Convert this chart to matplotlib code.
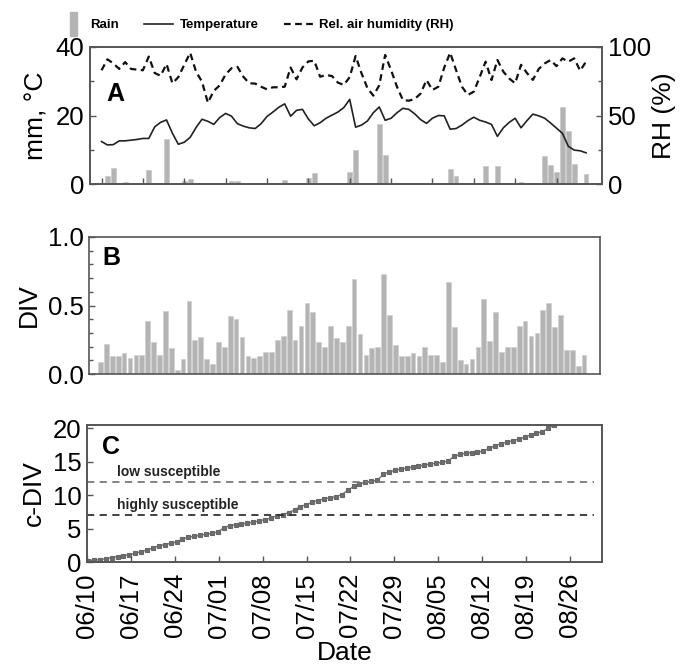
import numpy as np
import matplotlib
matplotlib.use("Agg")
import matplotlib.pyplot as plt
import matplotlib.patches as mpatches
from matplotlib.lines import Line2D
from matplotlib.legend_handler import HandlerPatch

plt.rcParams['font.family'] = ['Liberation Sans', 'DejaVu Sans']

# daily series, day 0 = 06/10
rain_days = [1, 2, 4, 8, 11, 14, 15, 16, 22, 23, 31, 35, 36, 39, 42, 43, 47, 48,
             56, 59, 60, 65, 67, 71, 75, 76, 77, 78, 79, 80, 82]
rain_mm = [2.4, 4.7, 0.5, 4.2, 13.1, 0.8, 1.5, 0.4, 0.8, 0.8, 1.1, 1.7, 3.2, 0.3, 3.4, 10.0, 17.6, 8.4,
           0.3, 4.4, 2.4, 5.3, 5.2, 0.6, 8.1, 5.6, 3.5, 22.4, 15.4, 5.8, 2.9]

temp = [12.4, 11.4, 11.5, 12.6, 12.6, 12.8, 13.0, 13.3, 13.3, 16.7,
        18.0, 18.7, 14.8, 11.6, 12.2, 13.6, 16.5, 18.9, 18.3, 17.4,
        19.4, 20.6, 19.8, 17.6, 16.9, 16.4, 16.2, 17.6, 19.7, 21.0,
        22.4, 23.4, 19.8, 21.5, 21.8, 19.0, 17.0, 17.9, 19.2, 20.1,
        21.0, 22.3, 24.7, 16.6, 17.2, 18.4, 20.8, 22.5, 18.6, 19.2,
        20.8, 22.1, 21.8, 20.5, 18.8, 17.7, 19.2, 20.0, 19.9, 16.0,
        16.2, 17.2, 18.5, 19.5, 18.6, 18.1, 17.4, 13.9, 16.4, 18.0,
        19.2, 16.4, 18.5, 20.4, 19.9, 19.2, 17.8, 16.3, 14.8, 11.0,
        9.9, 9.7, 9.1]

rh = [83, 91, 88, 84, 89, 84, 83.5, 83, 93, 81,
      79, 87.6, 73.5, 78, 87, 95.8, 82, 74.7, 59.3, 68,
      72, 80, 84.5, 85.5, 78.3, 73.5, 73.3, 71, 69.1, 70.6,
      70.6, 71, 85, 76.4, 85, 89.5, 90, 78.3, 79.6, 78.8,
      74, 72.3, 78, 93.4, 80.8, 70, 64.5, 72, 94.2, 83.2,
      71, 61.3, 60.8, 62, 66, 75.9, 68.6, 71, 85, 95.8,
      83.2, 71, 65, 67.4, 78, 89.3, 75.9, 90.5, 82, 77,
      73.5, 87, 81, 76, 84, 88, 90.5, 86, 91.7, 89.3,
      91.7, 82.7, 89.3]

div = [0.085, 0.22, 0.13, 0.13, 0.15, 0.12, 0.14, 0.14, 0.39, 0.23,
       0.14, 0.46, 0.19, 0.03, 0.11, 0.53, 0.25, 0.27, 0.11, 0.07,
       0.23, 0.20, 0.42, 0.40, 0.27, 0.13, 0.12, 0.13, 0.16, 0.16,
       0.25, 0.28, 0.47, 0.25, 0.35, 0.52, 0.45, 0.23, 0.20, 0.35,
       0.26, 0.23, 0.35, 0.69, 0.29, 0.14, 0.19, 0.195, 0.73, 0.43,
       0.21, 0.13, 0.13, 0.15, 0.13, 0.20, 0.14, 0.14, 0.09, 0.67,
       0.34, 0.10, 0.07, 0.11, 0.20, 0.55, 0.24, 0.45, 0.16, 0.195,
       0.195, 0.35, 0.39, 0.28, 0.30, 0.47, 0.52, 0.34, 0.43, 0.175,
       0.175, 0.06, 0.14]

cdiv = [0.2, 0.3, 0.35, 0.5, 0.65, 0.8, 0.95, 1.1, 1.3, 1.55,
        1.8, 2.1, 2.4, 2.6, 2.8, 3.0, 3.45, 3.7, 3.85, 4.0,
        4.15, 4.3, 4.5, 5.1, 5.45, 5.6, 5.7, 5.8, 5.95, 6.15,
        6.35, 6.6, 6.9, 7.1, 7.4, 7.8, 8.3, 8.6, 8.95, 9.2,
        9.45, 9.6, 9.75, 10.1, 10.7, 11.3, 11.7, 11.9, 12.1, 12.2,
        13.1, 13.5, 13.7, 13.9, 14.05, 14.2, 14.35, 14.5, 14.65, 14.8,
        14.9, 15.1, 15.8, 16.1, 16.25, 16.35, 16.45, 16.6, 17.0, 17.4,
        17.7, 17.95, 18.15, 18.4, 18.65, 19.0, 19.25, 19.5, 20.0, 20.5]

date_labels = ['06/10', '06/17', '06/24', '07/01', '07/08', '07/15',
               '07/22', '07/29', '08/05', '08/12', '08/19', '08/26']
low_thr = 12
high_thr = 7

days = np.arange(len(temp))
bar_col = '#b4b4b4'
spine_col = '#555555'
tick_fs = 18.5
lab_fs = 19

fig = plt.figure(figsize=(6.8, 6.66), dpi=100)
W, H = 680, 666


def box(l, r, t, b):
    return [l / W, 1 - b / H, (r - l) / W, (b - t) / H]


def style(ax):
    for s in ax.spines.values():
        s.set_color(spine_col)
        s.set_linewidth(1.2)
    ax.tick_params(direction='in', length=4, width=1, color=spine_col,
                   labelsize=tick_fs, pad=4)
    ax.tick_params(which='minor', direction='in', length=3, width=1, color=spine_col)


# ---- A ----
axA = fig.add_axes(box(90, 602, 47, 184))
axA.bar(rain_days, rain_mm, width=0.8, color=bar_col, edgecolor='#c8c8c8', linewidth=0.5)
axA.plot(days, temp, color='#222222', lw=1.2)
axA.set_xlim(-1.95, 84.7)
axA.set_ylim(0, 40)
axA.set_yticks([0, 20, 40])
axA.set_yticks([10, 30], minor=True)
axA.set_xticks(np.arange(0, 80, 7))
axA.set_xticklabels([])
axA.set_ylabel('mm, °C', fontsize=lab_fs, labelpad=5)
style(axA)
axA.text(0.05, 0.66, 'A', transform=axA.transAxes, fontsize=18, fontweight='bold',
         ha='center', va='center')

axR = axA.twinx()
axR.plot(days, rh, color='#111111', lw=1.6, ls=(0, (3, 2)))
axR.set_ylim(0, 100)
axR.set_yticks([0, 50, 100])
axR.set_yticks([25, 75], minor=True)
axR.set_ylabel('RH (%)', fontsize=lab_fs, labelpad=1)
style(axR)

# ---- B ----
axB = fig.add_axes(box(89, 600, 237, 374))
axB.bar(days, div, width=0.8, color=bar_col, edgecolor='#cfcfcf', linewidth=0.5)
axB.set_xlim(-1.95, 84.7)
axB.set_ylim(0, 1.0)
axB.set_yticks([0.0, 0.5, 1.0])
axB.set_yticklabels(['0.0', '0.5', '1.0'])
axB.set_yticks(np.arange(0.1, 1.0, 0.1), minor=True)
axB.set_xticks([])
axB.set_ylabel('DIV', fontsize=lab_fs, labelpad=5)
style(axB)
axB.text(0.043, 0.847, 'B', transform=axB.transAxes, fontsize=18, fontweight='bold',
         ha='center', va='center')

# ---- C ----
axC = fig.add_axes(box(87, 602, 425, 562))
k = np.arange(len(cdiv))
axC.plot(k, cdiv, color='#777777', lw=1.0, marker='s', ms=3.0, mec='#666666', mfc='#6e6e6e',
         mew=0.8)
axC.axhline(low_thr, xmax=0.985, color='#7a7a7a', lw=1.3, ls=(0, (4, 3)))
axC.axhline(high_thr, xmax=0.985, color='#333333', lw=1.3, ls=(0, (4, 3)))
axC.set_xlim(-0.17, 87.1)
axC.set_ylim(0, 20.5)
axC.set_yticks([0, 5, 10, 15, 20])
axC.set_xticks([])
axC.set_ylabel('c-DIV', fontsize=lab_fs, labelpad=5)
style(axC)
tr = axC.get_yaxis_transform()
axC.text(0.058, 13.45, 'low susceptible', transform=tr, fontsize=10, fontweight='bold',
         color='#222222', va='center')
axC.text(0.058, 8.5, 'highly susceptible', transform=tr, fontsize=10, fontweight='bold',
         color='#222222', va='center')
axC.text(0.047, 0.84, 'C', transform=axC.transAxes, fontsize=18, fontweight='bold',
         ha='center', va='center')

axD = axC.twiny()
axD.set_xlim(0, 82.1)
axD.set_xticks(7 * np.arange(len(date_labels)))
axD.set_xticklabels(date_labels, rotation=90)
axD.xaxis.set_ticks_position('bottom')
axD.xaxis.set_label_position('bottom')
axD.set_xlabel('Date', fontsize=lab_fs, labelpad=2)
style(axD)
axD.tick_params(axis='x', pad=8)


def rain_handle(legend, orig_handle, xdescent, ydescent, width, height, fontsize):
    # narrow tall bar at the right of the handle box
    return mpatches.Rectangle((-xdescent + width - 10, -ydescent - 0.8 * height),
                              5, 2.6 * height)


handles = [mpatches.Patch(color=bar_col),
           Line2D([], [], color='#222222', lw=1.2),
           Line2D([], [], color='#111111', lw=1.6, ls=(0, (3, 2)))]
fig.legend(handles, ['Rain', 'Temperature', 'Rel. air humidity (RH)'],
           loc='center', bbox_to_anchor=(0.374, 0.962), ncol=3, frameon=False,
           prop={'size': 9.5, 'weight': 'bold'}, handlelength=2.2, columnspacing=1.9,
           handletextpad=0.5,
           handler_map={mpatches.Patch: HandlerPatch(patch_func=rain_handle)})

fig.savefig('out.png', dpi=100)
